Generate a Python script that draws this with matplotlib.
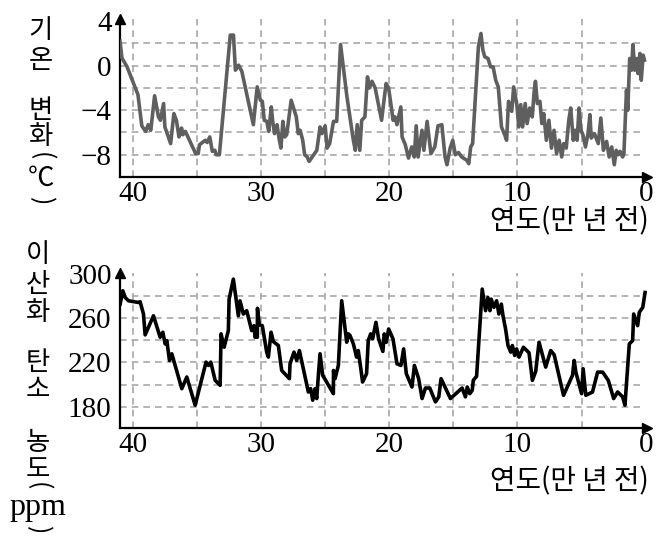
import matplotlib
matplotlib.use("Agg")
import matplotlib.pyplot as plt

# temperature change (top panel)
temp_age = [41.0, 40.85, 40.45, 39.6, 39.3, 39.0, 38.8, 38.6, 38.3, 38.0,
            37.85, 37.6, 37.5, 37.05, 36.8, 36.6, 36.4, 36.2, 36.1, 35.9,
            35.1, 34.9, 34.8, 34.35, 34.2, 34.0, 33.8, 33.6, 33.5, 33.25,
            32.4, 32.15, 32.0, 31.9, 31.75, 31.5, 30.6, 30.3, 30.05, 29.9,
            29.75, 29.55, 29.4, 29.2, 29.1, 28.95, 28.75, 28.6, 28.45, 28.3,
            28.15, 28.0, 27.65, 27.25, 27.1, 26.95, 26.75, 26.6, 26.4, 26.25,
            25.65, 25.4, 25.25, 25.0, 24.85, 24.65, 24.35, 24.1, 23.8, 23.3,
            22.8, 22.65, 22.5, 22.3, 22.15, 21.9, 21.7, 21.55, 21.35, 21.1,
            20.6, 20.25, 20.05, 19.7, 19.55, 19.4, 19.1, 19.0, 18.75, 18.5,
            18.25, 18.05, 17.9, 17.75, 17.45, 17.3, 17.05, 16.75, 16.45, 16.2,
            15.9, 15.65, 15.5, 15.25, 15.05, 14.85, 14.6, 14.35, 13.95, 13.8,
            13.65, 13.5, 13.05, 12.85, 12.7, 12.55, 12.3, 12.1, 11.9, 11.7,
            11.5, 11.25, 11.0, 10.85, 10.7, 10.45, 10.3, 10.05, 9.9, 9.75,
            9.6, 9.4, 9.25, 9.05, 8.85, 8.7, 8.6, 8.45, 8.25, 8.1,
            7.95, 7.75, 7.55, 7.35, 7.15, 6.95, 6.75, 6.55, 6.4, 6.2,
            6.0, 5.85, 5.65, 5.5, 5.35, 5.2, 5.05, 4.9, 4.7, 4.5,
            4.35, 4.25, 4.0, 3.7, 3.5, 3.3, 3.05, 2.85, 2.65, 2.45,
            2.3, 2.15, 2.0, 1.8, 1.7, 1.5, 1.4, 1.25, 1.1, 1.0,
            0.85, 0.7, 0.6, 0.45, 0.35, 0.2, 0.1]
temp_change = [2.2, 0.7, -0.1, -2.6, -5.4, -5.9, -5.3, -5.8, -2.7, -4.6,
               -4.9, -3.4, -5.5, -7.0, -4.3, -4.9, -6.4, -5.6, -6.2, -5.9,
               -7.9, -7.9, -7.1, -6.7, -6.9, -6.4, -7.7, -7.6, -8.0, -8.0,
               2.75, 2.75, -0.4, -0.2, 0.05, -0.5, -5.3, -1.9, -3.1, -3.2,
               -4.9, -5.0, -5.9, -3.7, -4.9, -6.1, -5.3, -6.5, -7.4, -5.0,
               -6.4, -6.2, -3.1, -4.6, -6.1, -5.8, -6.7, -8.0, -8.2, -8.6,
               -7.6, -5.5, -6.1, -5.4, -7.4, -7.0, -5.0, -5.0, 1.9, -2.8,
               -6.7, -7.6, -5.3, -7.6, -4.9, -4.6, -1.0, -2.0, -1.4, -2.0,
               -4.9, -1.6, -2.0, -4.9, -4.6, -5.3, -3.7, -6.4, -7.1, -8.3,
               -7.3, -8.2, -5.4, -8.2, -5.8, -7.6, -5.0, -7.9, -7.3, -5.4,
               -5.3, -8.2, -8.9, -7.4, -6.7, -8.0, -7.8, -8.2, -8.5, -8.8,
               -7.3, -7.0, 1.7, 2.9, 1.4, 0.8, 0.65, -0.1, -0.1, -1.3,
               -1.9, -5.5, -6.2, -6.7, -3.2, -4.1, -1.9, -3.5, -5.5, -3.5,
               -5.5, -3.4, -5.2, -3.8, -4.6, -2.3, -1.4, -3.4, -3.2, -5.2,
               -4.3, -6.7, -4.9, -7.4, -5.8, -7.9, -6.7, -8.2, -7.0, -7.4,
               -4.9, -3.8, -6.7, -5.8, -6.7, -3.8, -5.8, -6.2, -7.3, -6.1,
               -4.4, -6.5, -6.1, -7.0, -4.7, -7.6, -6.8, -8.2, -7.3, -8.9,
               -7.6, -8.0, -7.7, -8.2, -7.9, -2.2, -4.0, 0.65, -0.4, 1.9,
               -0.4, 0.65, -0.7, 1.1, -1.3, 0.95, 0.5]

# CO2 concentration (bottom panel)
co2_age = [40.99, 40.78, 40.6, 40.34, 39.56, 39.43, 39.17, 39.04, 38.39, 37.87,
           37.66, 37.48, 37.35, 37.14, 36.96, 36.18, 35.79, 35.14, 34.29, 34.1,
           33.92, 33.58, 33.19, 33.12, 32.88, 32.55, 32.49, 32.16, 31.77, 31.64,
           31.38, 31.12, 30.73, 30.55, 30.47, 30.29, 30.28, 30.13, 29.9, 29.56,
           29.43, 29.22, 29.04, 28.65, 28.39, 27.79, 27.74, 27.43, 27.22, 27.01,
           26.31, 26.13, 25.97, 25.79, 25.66, 25.53, 25.4, 25.19, 24.36, 24.35,
           24.23, 23.97, 23.71, 23.32, 23.19, 23.06, 22.8, 22.55, 22.42, 22.29,
           22.08, 21.77, 21.64, 21.45, 21.3, 21.04, 20.83, 20.5, 20.39, 20.23,
           20.05, 19.71, 19.4, 19.09, 18.88, 18.67, 18.23, 18.04, 17.71, 17.44,
           17.18, 16.84, 16.4, 16.14, 15.96, 15.23, 14.32, 14.06, 13.92, 13.72,
           13.53, 13.45, 13.19, 12.75, 12.49, 12.31, 12.15, 12.05, 11.84, 11.63,
           11.45, 11.26, 11.13, 10.93, 10.74, 10.53, 10.4, 10.22, 10.07, 9.88,
           9.54, 9.1, 8.84, 8.58, 8.32, 7.8, 7.41, 7.14, 6.41, 5.71,
           5.58, 5.45, 5.0, 4.88, 4.67, 4.15, 3.75, 3.36, 2.92, 2.5,
           2.19, 1.8, 1.62, 1.28, 1.02, 0.94, 0.63, 0.5, 0.23, 0.05]
co2_ppm = [272.5, 284.5, 278.5, 275.5, 274, 274.6, 263.6, 244.8, 262, 242.7,
           247.2, 236.7, 239.7, 221.8, 227.8, 196.4, 206.9, 181.5, 220.3, 217.3,
           220.3, 203.9, 199.4, 245.7, 233.7, 248.7, 277, 295, 262, 275.5,
           263.6, 266.6, 248.7, 253.1, 242.7, 242.7, 268.7, 253.7, 253.1, 229.3,
           224.8, 247.2, 238.8, 235.2, 212.8, 205.4, 218.8, 229.3, 221.8, 230.7,
           193.4, 196.4, 186, 196.4, 187.5, 208.4, 227.8, 208.4, 191.9, 212.8,
           205.4, 217.3, 275.5, 238.2, 245.7, 244.2, 236.7, 224.8, 230.7, 220.3,
           202.4, 209.9, 239.7, 245.7, 241.2, 256.1, 241.2, 229.9, 245.7, 238.2,
           250.1, 241.2, 218.8, 217.3, 232.2, 209.9, 197.9, 217.3, 205.4, 187.5,
           197.0, 197.0, 184.5, 189, 205.4, 187.5, 197.0, 189, 197.9, 191.9,
           194.9, 203.9, 207.5, 286, 266.6, 278.5, 266.6, 277, 269.6, 275.5,
           263.6, 272.5, 262, 250.1, 235.2, 229.3, 235.2, 226.3, 232.2, 224.8,
           233.7, 228.7, 203.9, 211.9, 238.2, 215.8, 230.7, 226.9, 190.4, 208.4,
           221.8, 211.3, 191.9, 214.3, 190.4, 193.4, 211.3, 211.3, 203.9, 187.5,
           193.4, 189, 181.5, 236.7, 239.7, 263.6, 253.1, 265.1, 269.6, 283]

x_ticks = [40, 30, 20, 10, 0]
x_grid = [40, 35, 30, 25, 20, 15, 10, 5]
temp_ticks = [4, 0, -4, -8]
temp_grid = [2, 0, -2, -4, -6, -8]
co2_ticks = [300, 260, 220, 180]
co2_grid = [280, 260, 240, 220, 200, 180]

x_label = "연도(만 년 전)"
temp_label = ["기", "온", "변", "화", "(", "℃", ")"]
co2_label = ["이", "산", "화", "탄", "소", "농", "도", "(", "ppm", ")"]

KR = "Noto Sans CJK KR"
SERIF = "Liberation Serif"
W, H = 663, 539

fig = plt.figure(figsize=(W / 100, H / 100), dpi=100)


def setup_axes(ax, ylim, yticks, ygrid, ytick_labels):
    ax.set_xlim(41.0, -0.1)
    ax.set_ylim(*ylim)
    for s in ["top", "right"]:
        ax.spines[s].set_visible(False)
    for s in ["left", "bottom"]:
        ax.spines[s].set_linewidth(1.6)
    ax.hlines(ygrid, 41.0, 0.4, colors="#a8a8a8", linestyles=(0, (4, 3)), lw=1.2, zorder=1)
    ax.vlines(x_grid, ylim[0], ylim[1], colors="#a8a8a8", linestyles=(0, (4, 3)), lw=1.2, zorder=1)
    ax.set_xticks(x_ticks)
    ax.set_xticklabels([str(t) for t in x_ticks], fontfamily=SERIF, fontsize=21)
    ax.set_yticks(yticks)
    ax.set_yticklabels(ytick_labels, fontfamily=SERIF, fontsize=21)
    ax.tick_params(axis="x", length=0, pad=3)
    ax.tick_params(axis="y", length=0, pad=6)
    # arrow heads on the axes
    ax.plot(1, 0, ">", color="k", ms=7, transform=ax.transAxes, clip_on=False)
    ax.plot(0, 1, "^", color="k", ms=7, transform=ax.transAxes, clip_on=False)


ax1 = fig.add_axes([120 / W, 1 - 177 / H, 527 / W, 158 / H])
setup_axes(ax1, (-10, 4.2), temp_ticks, temp_grid,
           [str(t).replace("-", "\u2212") for t in temp_ticks])
ax1.plot(temp_age, temp_change, color="#5f5f5f", lw=2.6, zorder=3)

ax2 = fig.add_axes([120 / W, 1 - 428 / H, 527 / W, 155 / H])
setup_axes(ax2, (161, 300.5), co2_ticks, co2_grid, [str(t) for t in co2_ticks])
ax2.plot(co2_age, co2_ppm, color="black", lw=2.6, zorder=3)

# x axis titles
fig.text(649 / W, 1 - 221 / H, x_label, ha="right", va="center", fontfamily=KR, fontsize=20)
fig.text(649 / W, 1 - 481 / H, x_label, ha="right", va="center", fontfamily=KR, fontsize=20)


def vertical_label(chars, ys, x):
    # one glyph per line, brackets turned on their side
    for ch, y in zip(chars, ys):
        if ch in "()":
            fig.text(x / W, 1 - y / H, ch, ha="center", va="center", rotation=-90,
                     fontfamily=KR, fontsize=18)
        elif ch == "ppm":
            fig.text(x / W, 1 - y / H, ch, ha="center", va="center",
                     fontfamily=SERIF, fontsize=23)
        else:
            fig.text(x / W, 1 - y / H, ch, ha="center", va="center",
                     fontfamily=KR, fontsize=19)


vertical_label(temp_label, [30, 61, 110, 137, 156, 178, 201], 41)
vertical_label(co2_label, [255, 285, 313, 362, 390, 442, 470, 486, 507, 530], 38)

fig.savefig("out.png", dpi=100)
